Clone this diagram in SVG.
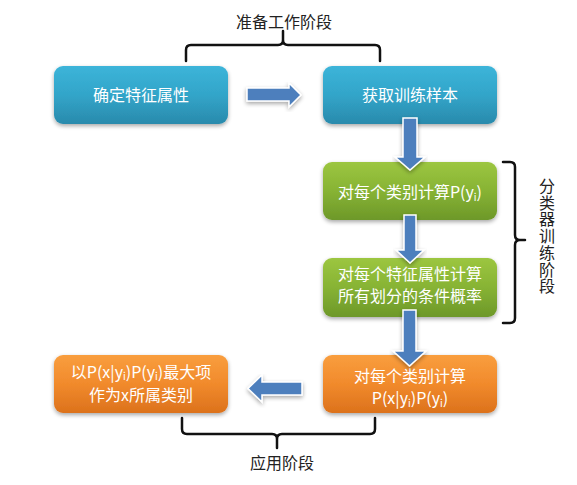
<svg xmlns="http://www.w3.org/2000/svg" width="577" height="485" viewBox="0 0 577 485">
<defs>
<linearGradient id="gBlue" x1="0" y1="0" x2="0" y2="1"><stop offset="0" stop-color="#3cb4d9"/><stop offset="0.5" stop-color="#32a5c9"/><stop offset="1" stop-color="#2a8aac"/></linearGradient>
<linearGradient id="gGreen" x1="0" y1="0" x2="0" y2="1"><stop offset="0" stop-color="#9cc640"/><stop offset="0.5" stop-color="#87b334"/><stop offset="1" stop-color="#6d9829"/></linearGradient>
<linearGradient id="gOrange" x1="0" y1="0" x2="0" y2="1"><stop offset="0" stop-color="#f99e3e"/><stop offset="0.5" stop-color="#f18a2c"/><stop offset="1" stop-color="#dc721c"/></linearGradient>
<filter id="sh" x="-10%" y="-10%" width="120%" height="130%"><feGaussianBlur in="SourceAlpha" stdDeviation="2"/><feOffset dx="0" dy="2" result="b"/><feComponentTransfer><feFuncA type="linear" slope="0.35"/></feComponentTransfer><feMerge><feMergeNode/><feMergeNode in="SourceGraphic"/></feMerge></filter>
</defs>
<style>
.box{rx:9;ry:9;filter:url(#sh)}
.bt{font-family:"Noto Sans CJK SC","Liberation Sans",sans-serif;font-size:16px;fill:#ffffff;text-anchor:middle}
.lt{font-family:"Noto Sans CJK SC","Liberation Sans",sans-serif;font-size:16px;fill:#222222;text-anchor:middle}
.vt{font-family:"Noto Sans CJK SC","Liberation Sans",sans-serif;font-size:16px;fill:#222222;writing-mode:vertical-rl;letter-spacing:0.7px}
.sub{font-size:10px}
.arr{fill:#4d7fbd;stroke:#ffffff;stroke-width:1.5;filter:url(#sh)}
.br{fill:none;stroke:#111111;stroke-width:2.5;stroke-linejoin:round;stroke-linecap:round}
</style>
<rect width="577" height="485" fill="#ffffff"/>

<g id="n1"><rect class="box" x="54" y="66" width="174" height="58" fill="url(#gBlue)"/><text class="bt" x="141" y="101">确定特征属性</text></g>
<g id="n2"><rect class="box" x="323" y="66" width="174" height="58" fill="url(#gBlue)"/><text class="bt" x="410" y="101">获取训练样本</text></g>
<g id="n3"><rect class="box" x="323" y="162" width="174" height="58" fill="url(#gGreen)"/><text class="bt" x="410" y="198">对每个类别计算P(y<tspan class="sub" dy="3">i</tspan><tspan dy="-3">)</tspan></text></g>
<g id="n4"><rect class="box" x="323" y="258" width="174" height="59" fill="url(#gGreen)"/><text class="bt" x="410" y="280">对每个特征属性计算</text><text class="bt" x="410" y="302">所有划分的条件概率</text></g>
<g id="n5"><rect class="box" x="323" y="355" width="174" height="58" fill="url(#gOrange)"/><text class="bt" x="410" y="382">对每个类别计算</text><text class="bt" x="410" y="404">P(x|y<tspan class="sub" dy="3">i</tspan><tspan dy="-3">)P(y</tspan><tspan class="sub" dy="3">i</tspan><tspan dy="-3">)</tspan></text></g>
<g id="n6"><rect class="box" x="54" y="355" width="174" height="58" fill="url(#gOrange)"/><text class="bt" x="141" y="378">以P(x|y<tspan class="sub" dy="2">i</tspan><tspan dy="-2">)P(y</tspan><tspan class="sub" dy="2">i</tspan><tspan dy="-2">)最大项</tspan></text><text class="bt" x="141" y="401">作为x所属类别</text></g>

<g id="connectors">
<path class="arr" d="M247,88 L289,88 L289,83 L301,95 L289,107 L289,101 L247,101 Z"/>
<path class="arr" d="M403,118 L417,118 L417,157 L425,157 L410,170 L395,157 L403,157 Z"/>
<path class="arr" d="M404,215 L416,215 L416,250 L424,250 L410,263 L396,250 L404,250 Z"/>
<path class="arr" d="M403,310 L416,310 L416,351 L426,351 L409.5,366 L393,351 L403,351 Z"/>
<path class="arr" d="M302,382 L262,382 L262,375 L248,388.5 L262,402 L262,395 L302,395 Z"/>
</g>

<g id="brackets">
<path class="br" d="M186,61 L186,50 Q186,45 191,45 L278,45 Q283,45 283,40 L283,31 M283,40 Q283,45 288,45 L375,45 Q380,45 380,50 L380,61"/>
<path class="br" d="M503,162 L510,162 Q515,162 515,167 L515,235 Q515,240 520,240 L525,240 M520,240 Q515,240 515,245 L515,318 Q515,323 510,323 L503,323"/>
<path class="br" d="M182,418 L182,429 Q182,434 187,434 L272,434 Q277,434 277,439 L277,448 M277,439 Q277,434 282,434 L370,434 Q375,434 375,429 L375,418"/>
</g>

<g id="labels">
<text class="lt" x="284" y="28">准备工作阶段</text>
<text class="lt" x="282" y="469">应用阶段</text>
<text class="vt" x="547" y="178">分类器训练阶段</text>
</g>
</svg>
